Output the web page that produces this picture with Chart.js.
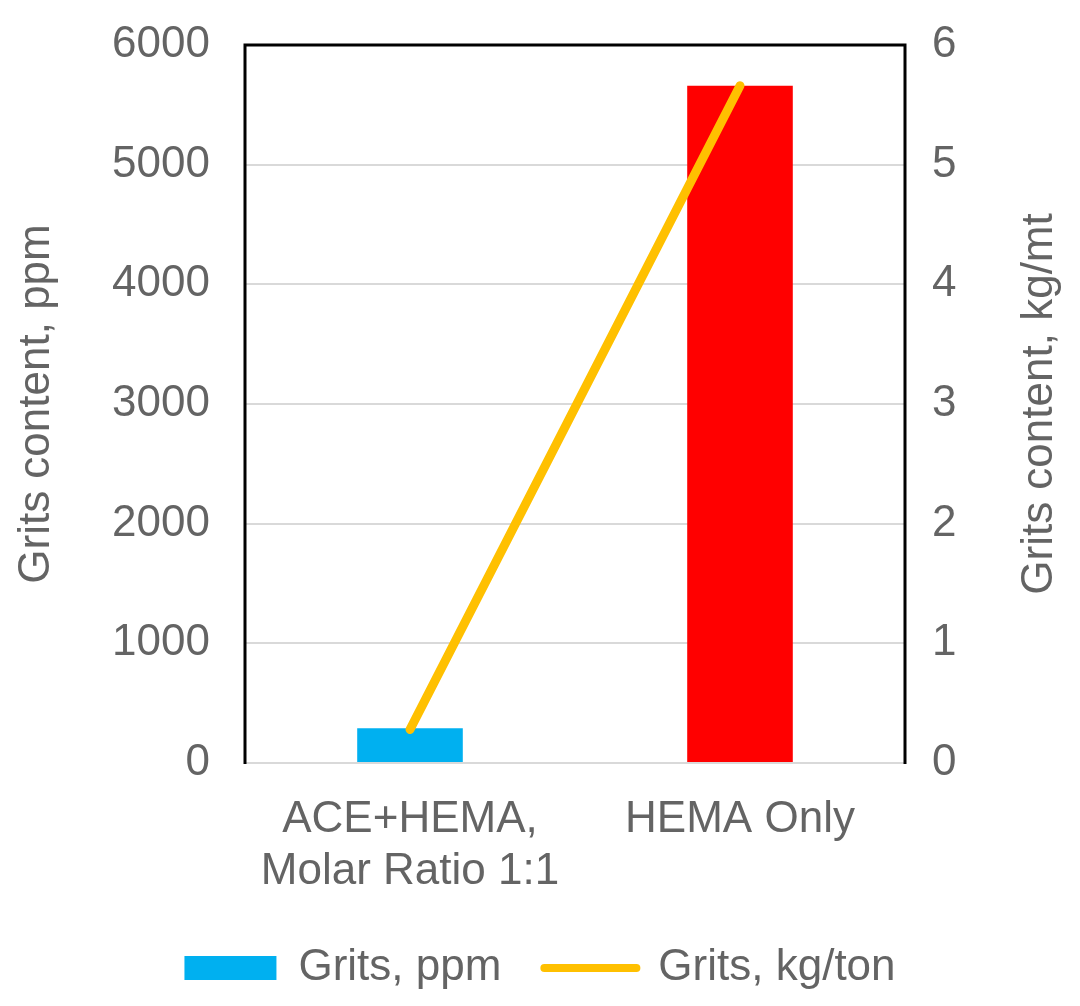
<!DOCTYPE html>
<html>
<head>
<meta charset="utf-8">
<script src="https://cdn.jsdelivr.net/npm/chart.js@4"></script>
<style>
  html, body { margin:0; padding:0; background:#fff; }
  #wrap { width:1080px; height:1006px; }
</style>
</head>
<body>
<div id="wrap"><canvas id="chart"></canvas></div>
<script>
const categories = [['ACE+HEMA,', 'Molar Ratio 1:1'], 'HEMA Only'];
const gritsPpm = [290, 5660];
const gritsKgTon = [0.28, 5.66];
const barColors = ['#00B0F0', '#FF0000'];
const lineColor = '#FFC000';
const seriesNames = ['Grits, ppm', 'Grits, kg/ton'];
const axisTitles = ['Grits content, ppm', 'Grits content, kg/mt'];

const FONT = '"Liberation Sans", Arial, sans-serif';
const GREY = '#646464';

// black frame on top/left/right + right-hand title (reads bottom to top like the left one)
const framePlugin = {
  id: 'frame',
  afterDraw(chart) {
    const ctx = chart.ctx, a = chart.chartArea;
    ctx.save();
    ctx.strokeStyle = '#000';
    ctx.lineWidth = 3;
    ctx.beginPath();
    ctx.moveTo(a.left, a.bottom + 1);
    ctx.lineTo(a.left, a.top);
    ctx.lineTo(a.right, a.top);
    ctx.lineTo(a.right, a.bottom + 1);
    ctx.stroke();
    ctx.translate(1040, (a.top + a.bottom) / 2);
    ctx.rotate(-Math.PI / 2);
    ctx.fillStyle = GREY;
    ctx.font = '44px ' + FONT;
    ctx.textAlign = 'center';
    ctx.textBaseline = 'middle';
    ctx.fillText(axisTitles[1], 0, 0);
    ctx.restore();
  }
};

new Chart(document.getElementById('chart'), {
  data: {
    labels: categories,
    datasets: [{
      type: 'bar',
      label: seriesNames[0],
      data: gritsPpm,
      backgroundColor: barColors,
      yAxisID: 'y',
      order: 2,
      barPercentage: 0.32,
      categoryPercentage: 1
    }, {
      type: 'line',
      label: seriesNames[1],
      data: gritsKgTon,
      borderColor: lineColor,
      borderWidth: 9,
      borderCapStyle: 'round',
      pointRadius: 0,
      yAxisID: 'y2',
      order: 1
    }]
  },
  options: {
    responsive: true,
    maintainAspectRatio: false,
    animation: false,
    layout: { padding: { top: 45, left: 0, right: 0, bottom: 6 } },
    plugins: {
      tooltip: { enabled: false },
      legend: {
        position: 'bottom',
        maxHeight: 105,
        labels: {
          usePointStyle: true,
          pointStyleWidth: 92,
          boxHeight: 24,
          padding: 43,
          color: GREY,
          font: { family: FONT, size: 44 },
          generateLabels: function(chart) {
            return [{
              text: seriesNames[0], fillStyle: barColors[0], strokeStyle: barColors[0],
              lineWidth: 0, pointStyle: 'rect', datasetIndex: 0, hidden: false, fontColor: GREY
            }, {
              text: seriesNames[1], fillStyle: lineColor, strokeStyle: lineColor,
              lineWidth: 8, lineCap: 'round', pointStyle: 'line', datasetIndex: 1, hidden: false, fontColor: GREY
            }];
          }
        }
      }
    },
    scales: {
      x: {
        grid: { display: false },
        border: { color: '#d9d9d9', width: 2 },
        ticks: {
          color: GREY, font: { family: FONT, size: 44 }, padding: 22,
          maxRotation: 0, autoSkip: false
        },
        afterFit: function(s) { s.height = 140; }
      },
      y: {
        position: 'left',
        min: 0, max: 6000,
        ticks: {
          stepSize: 1000, color: GREY, font: { family: FONT, size: 44 }, padding: 0,
          callback: v => String(v)
        },
        grid: { color: '#d9d9d9', lineWidth: 2, drawTicks: true, tickLength: 35, tickColor: 'rgba(0,0,0,0)' },
        border: { display: false },
        title: {
          display: true, text: axisTitles[0], color: GREY,
          font: { family: FONT, size: 44 }, padding: { top: 10, bottom: 0 }
        },
        afterFit: function(s) { s.width = 245; }
      },
      y2: {
        position: 'right',
        min: 0, max: 6,
        ticks: {
          stepSize: 1, color: GREY, font: { family: FONT, size: 44 }, padding: 0,
          callback: v => String(v)
        },
        grid: { drawOnChartArea: false, drawTicks: true, tickLength: 27, tickColor: 'rgba(0,0,0,0)' },
        border: { display: false },
        afterFit: function(s) { s.width = 175; }
      }
    }
  },
  plugins: [framePlugin]
});
</script>
</body>
</html>
